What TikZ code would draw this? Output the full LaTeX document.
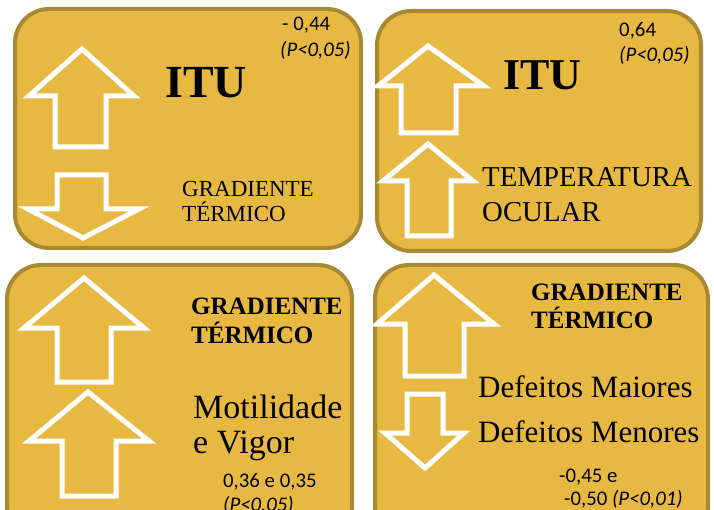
\documentclass[tikz,border=0pt]{standalone}
\usepackage{fontspec}
\setmainfont{Liberation Serif}
\newfontfamily\carlfont{Carlito}
\definecolor{gold}{HTML}{E8B942}
\definecolor{goldedge}{HTML}{A78934}
\tikzset{
  panel/.style={draw=goldedge, fill=gold, line width=4pt, rounded corners=34pt},
  arr/.style={draw=white, fill=gold, line width=5pt, line join=miter},
  lbl/.style={anchor=base west, inner sep=0pt, text=black},
  stat/.style={lbl, font=\carlfont\fontsize{20.8}{24}\selectfont},
}
% tipx tipy wingleft wingright headbase shaftleft shaftright end
\newcommand\blockarrow[8]{\draw[arr] (#1,#2) -- (#4,#5) -- (#7,#5) -- (#7,#8) -- (#6,#8) -- (#6,#5) -- (#3,#5) -- cycle;}
\begin{document}
\begin{tikzpicture}[x=1pt, y=-1pt]
\useasboundingbox (0,0) rectangle (714,510);
% panels
\draw[panel] (15,9) rectangle (361,248);
\draw[panel] (377,11) rectangle (701,251);
\draw[panel] (7,265) rectangle (352,540);
\draw[panel] (375,265) rectangle (708,540);
% arrows panel 1
\blockarrow{82}{49}{29}{134}{96}{55}{106}{147}
\blockarrow{83}{238}{28}{139}{209}{57}{106}{175}
% arrows panel 2
\blockarrow{428}{46}{378}{484}{86}{401}{456}{133}
\blockarrow{428}{144}{383}{473}{181}{407}{451}{236}
% arrows panel 3
\blockarrow{84}{278}{24}{144}{328}{57}{111}{382}
\blockarrow{88}{392}{29}{149}{441}{62}{116}{496}
% arrows panel 4
\blockarrow{434}{275}{377}{494}{324}{405}{464}{376}
\blockarrow{425}{468}{385}{464}{433}{407}{443}{394}
% panel 1 texts
\node[lbl, font=\bfseries\fontsize{46}{50}\selectfont] (itu1) at (165,98) {ITU};
\node[stat] (r1) at (282,31) {- 0,44};
\node[stat] (p1) at (280,57) {\itshape (P<0,05)};
\node[lbl, font=\fontsize{23}{26}\selectfont] (gt1a) at (182,197) {GRADIENTE};
\node[lbl, font=\fontsize{23}{26}\selectfont] (gt1b) at (182,222) {TÉRMICO};
% panel 2 texts
\node[lbl, font=\bfseries\fontsize{44}{48}\selectfont] (itu2) at (503,90) {ITU};
\node[stat] (r2) at (619,37) {0,64};
\node[stat] (p2) at (619,62) {\itshape (P<0,05)};
\node[lbl, font=\fontsize{28.8}{32}\selectfont] (to1) at (482,187) {TEMPERATURA};
\node[lbl, font=\fontsize{28.8}{32}\selectfont] (to2) at (482,222) {OCULAR};
% panel 3 texts
\node[lbl, font=\bfseries\fontsize{25}{28}\selectfont] (gt3a) at (191,315) {GRADIENTE};
\node[lbl, font=\bfseries\fontsize{25}{28}\selectfont] (gt3b) at (191,343) {TÉRMICO};
\node[lbl, font=\fontsize{34}{38}\selectfont] (mv1) at (193,418) {Motilidade};
\node[lbl, font=\fontsize{34}{38}\selectfont] (mv2) at (193,453) {e Vigor};
\node[stat] (r3) at (223,487) {0,36 e 0,35};
\node[stat] (p3) at (223,511) {\itshape (P<0,05)};
% panel 4 texts
\node[lbl, font=\bfseries\fontsize{25}{28}\selectfont] (gt4a) at (531,301) {GRADIENTE};
\node[lbl, font=\bfseries\fontsize{25}{28}\selectfont] (gt4b) at (531,328) {TÉRMICO};
\node[lbl, font=\fontsize{31}{35}\selectfont] (dm1) at (478,397) {Defeitos Maiores};
\node[lbl, font=\fontsize{31}{35}\selectfont] (dm2) at (478,442) {Defeitos Menores};
\node[stat] (r4) at (559,482) {-0,45 e};
\node[stat] (p4) at (564,505) {-0,50 {\itshape (P<0,01)}};
\end{tikzpicture}
\end{document}
